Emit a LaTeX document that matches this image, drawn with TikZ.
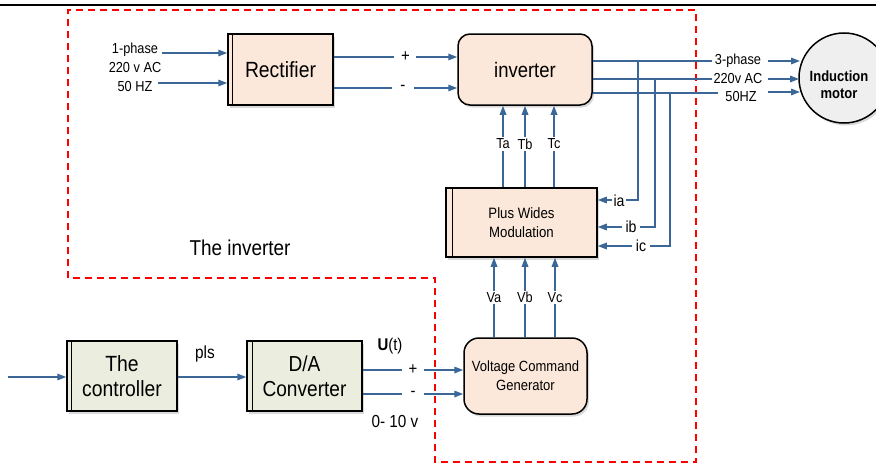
\documentclass[tikz,border=0pt]{standalone}
\usepackage{fontspec}
\setmainfont[FakeStretch=0.88]{Liberation Sans}
\usetikzlibrary{arrows.meta,shapes.geometric,shadows}
\definecolor{wireblue}{HTML}{3B6698}
\definecolor{peach}{HTML}{FCE8DA}
\definecolor{sage}{HTML}{EBEEDE}
\definecolor{motorgray}{HTML}{EFEFEF}
\newcommand\fsz[2]{\fontsize{#1}{#2}\selectfont}
\begin{document}
\begin{tikzpicture}[x=1pt,y=-1pt,
  wire/.style={draw=wireblue,line width=1.6pt},
  arr/.style={wire,-{Triangle[length=9pt,width=6.5pt]}},
  shade/.style={drop shadow={shadow xshift=2pt,shadow yshift=-2.5pt,opacity=0.3}},
  blk/.style={draw=black,line width=1.5pt,fill=peach,shade,align=center,inner sep=0pt},
  lbl/.style={fill=white,inner sep=1.5pt,font=\fsz{14.5}{16}},
  sign/.style={fill=white,inner sep=1.5pt,minimum width=22pt,font=\fsz{17}{18}},
  txt/.style={inner sep=0pt,font=\fsz{14.5}{19},align=center},
  frame/.style={draw=red,line width=2.6pt,dash pattern=on 7pt off 5pt}
]
\useasboundingbox (0,0) rectangle (876,463);

% rule across the top
\draw[line width=1.6pt] (0,5) -- (876,5);

% dashed boundary of the inverter section
\draw[frame] (68,278) -- (68,10) -- (696,10) -- (696,462) -- (435,462) -- (435,278) -- cycle;
\node[inner sep=0pt,font=\fsz{21.5}{24}] (secname) at (240,248) {The inverter};

% blocks
\node[blk,minimum width=105pt,minimum height=71pt,font=\fsz{22}{24}] (rect) at (280.5,69.5) {Rectifier};
\draw[line width=1.5pt] ([xshift=5pt]rect.north west) -- ([xshift=5pt]rect.south west);

\node[blk,rounded corners=12pt,minimum width=134pt,minimum height=71pt,font=\fsz{21}{24}] (inv) at (525,69.5) {inverter};

\node[blk,minimum width=151pt,minimum height=69pt,font=\fsz{15}{19}] (pwm) at (521.5,222.5) {Plus Wides\\Modulation};
\draw[line width=1.5pt] ([xshift=7pt]pwm.north west) -- ([xshift=7pt]pwm.south west);

\node[blk,rounded corners=15pt,minimum width=123pt,minimum height=76pt,font=\fsz{14.8}{19}] (vcg) at (525.5,376) {Voltage Command\\Generator};

\node[blk,fill=sage,minimum width=110pt,minimum height=70pt,font=\fsz{22}{25}] (ctl) at (122,376) {The\\controller};
\draw[line width=1.5pt] ([xshift=5pt]ctl.north west) -- ([xshift=5pt]ctl.south west);

\node[blk,fill=sage,minimum width=115pt,minimum height=70pt,font=\fsz{21.7}{25}] (dac) at (304.5,376) {D/A\\Converter};
\draw[line width=1.5pt] ([xshift=6pt]dac.north west) -- ([xshift=6pt]dac.south west);

\node[ellipse,draw=black,line width=1.5pt,fill=motorgray,shade,minimum width=90pt,minimum height=90pt,inner sep=0pt] (mot) at (844,78) {};
\node[inner sep=0pt,align=center,font=\bfseries\fsz{14.8}{17}] (motname) at (839,85) {Induction\\motor};

% supply input
\node[txt] (sup) at (135,67) {1-phase\\220 v AC\\50 HZ};
\coordinate (s1) at (162,53);
\coordinate (s2) at (158,83);
\draw[arr] (s1) -- (rect.west |- s1);
\draw[arr] (s2) -- (rect.west |- s2);

% DC link
\coordinate (dcp) at (0,57);
\coordinate (dcn) at (0,88);
\draw[arr] (rect.east |- dcp) -- node[pos=0.58,sign] {+} (inv.west |- dcp);
\draw[arr] (rect.east |- dcn) -- node[pos=0.56,sign] {-} (inv.west |- dcn);

% three-phase output to the motor
\node[lbl] (o1) at (738,61) {3-phase};
\node[lbl] (o2) at (738,79) {220v AC};
\node[lbl] (o3) at (741,97) {50HZ};
\coordinate (y1) at (0,61);
\coordinate (y2) at (0,79);
\coordinate (y3) at (0,93);
\coordinate (e1) at (712,61);
\coordinate (e2) at (712,79);
\coordinate (e3) at (718,93);
\draw[wire] (inv.east |- y1) -- (e1);
\draw[wire] (inv.east |- y2) -- (e2);
\draw[wire] (inv.east |- y3) -- (e3);
\coordinate (m1) at (768,61);
\coordinate (m2) at (768,79);
\coordinate (m3) at (768,92);
\draw[arr] (m1) -- (800,61);
\draw[arr] (m2) -- (799,79);
\draw[arr] (m3) -- (800,92);

% current feedback taps
\coordinate (ta) at (638,61);
\coordinate (tb) at (655,79);
\coordinate (tc) at (670,93);
\coordinate (ya) at (0,200);
\coordinate (yb) at (0,227);
\coordinate (yc) at (0,246);
\draw[arr] (ta) |- (pwm.east |- ya);
\draw[arr] (tb) |- (pwm.east |- yb);
\draw[arr] (tc) |- (pwm.east |- yc);
\node[lbl,font=\fsz{16}{17}] (ia) at (619,201) {ia};
\node[lbl,font=\fsz{16}{17},inner xsep=4pt] (ib) at (631,227) {ib};
\node[lbl,font=\fsz{16}{17},inner xsep=4pt] (ic) at (641,246) {ic};

% switching signals
\coordinate (xa) at (503,0);
\coordinate (xb) at (525,0);
\coordinate (xc) at (554,0);
\draw[arr] (pwm.north -| xa) -- node[lbl,pos=0.53] {Ta} (inv.south -| xa);
\draw[arr] (pwm.north -| xb) -- node[lbl,pos=0.53] {Tb} (inv.south -| xb);
\draw[arr] (pwm.north -| xc) -- node[lbl,pos=0.53] {Tc} (inv.south -| xc);

% voltage references
\coordinate (va) at (494,0);
\coordinate (vb) at (525,0);
\coordinate (vc) at (555,0);
\draw[arr] (vcg.north -| va) -- node[lbl,pos=0.5] {Va} (pwm.south -| va);
\draw[arr] (vcg.north -| vb) -- node[lbl,pos=0.5] {Vb} (pwm.south -| vb);
\draw[arr] (vcg.north -| vc) -- node[lbl,pos=0.5] {Vc} (pwm.south -| vc);

% command chain
\coordinate (cin) at (8,377);
\draw[arr] (cin) -- (ctl.west |- cin);
\draw[arr] (ctl.east |- cin) -- (dac.west |- cin);
\node[txt,font=\fsz{17.5}{19}] (pls) at (205,354) {pls};
\coordinate (up) at (0,370);
\coordinate (un) at (0,394);
\draw[arr] (dac.east |- up) -- node[pos=0.5,sign] {+} (vcg.west |- up);
\draw[arr] (dac.east |- un) -- node[pos=0.5,sign] {-} (vcg.west |- un);
\node[txt,font=\fsz{17}{19}] (ut) at (390,346) {\textbf{U}(t)};
\node[txt,font=\fsz{17.4}{19}] (range) at (395,422) {0- 10 v};
\end{tikzpicture}
\end{document}
